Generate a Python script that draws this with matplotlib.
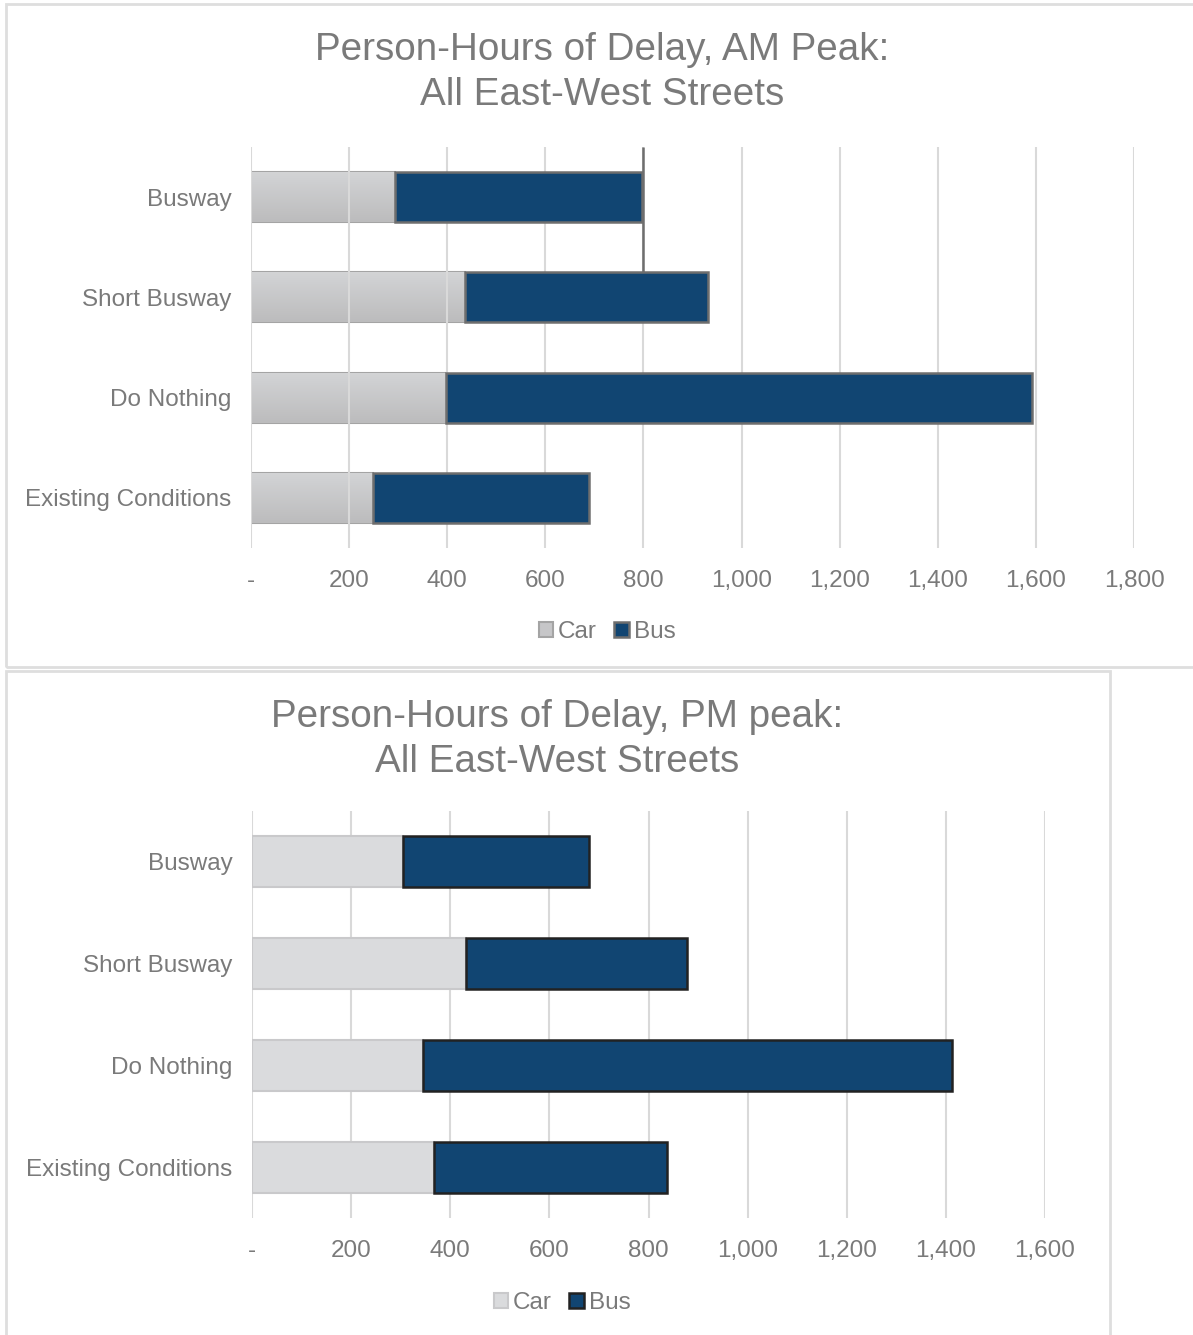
import matplotlib
matplotlib.use("Agg")
import matplotlib.pyplot as plt
import numpy as np
from matplotlib.patches import Rectangle
from matplotlib.colors import LinearSegmentedColormap
from matplotlib.ticker import FuncFormatter, MultipleLocator

plt.rcParams['font.family'] = ['Liberation Sans', 'DejaVu Sans']

categories = ["Existing Conditions", "Do Nothing", "Short Busway", "Busway"]

am_car = [248, 398, 437, 294]
am_total = [689, 1592, 931, 797]
am_bus = [t - c for t, c in zip(am_total, am_car)]

pm_car = [367, 346, 432, 304]
pm_total = [837, 1412, 878, 680]
pm_bus = [t - c for t, c in zip(pm_total, pm_car)]

am_title = "Person-Hours of Delay, AM Peak:\nAll East-West Streets"
pm_title = "Person-Hours of Delay, PM peak:\nAll East-West Streets"
series_names = ["Car", "Bus"]

W, H = 1193, 1335
fig = plt.figure(figsize=(W / 100, H / 100), dpi=100)
fig.patch.set_facecolor("white")

TEXT = "#7a7a7a"
BUS = "#114572"
GRID = "#d9d9d9"
FS = 17.5


def fx(px):
    return px / W


def fy(py):
    return 1 - py / H


# panel borders
fig.patches.append(Rectangle((fx(6), fy(667)), fx(1200) - fx(6), fy(4) - fy(667),
                             transform=fig.transFigure, fill=False,
                             edgecolor="#dedede", linewidth=2))
fig.patches.append(Rectangle((fx(6), fy(1345)), fx(1110) - fx(6), fy(671) - fy(1345),
                             transform=fig.transFigure, fill=False,
                             edgecolor="#dedede", linewidth=2))


def fmt(v, pos):
    if abs(v) < 1e-9:
        return "-"
    return f"{int(round(v)):,}"


def make(ax, car, bus, xmax, car_color, car_edge, bus_edge, car_z, gradient=False):
    y = list(range(len(categories)))
    ax.set_axisbelow(True)
    cars = ax.barh(y, car, height=0.5, color=car_color, edgecolor=car_edge,
                   linewidth=1.5, zorder=car_z, label=series_names[0])
    ax.barh(y, bus, left=car, height=0.5, color=BUS, edgecolor=bus_edge,
            linewidth=1.8, zorder=2, label=series_names[1])
    if gradient:
        cmap = LinearSegmentedColormap.from_list("g", ["#bcbcbd", "#d3d4d6"])
        grad = np.linspace(0, 1, 64).reshape(-1, 1)
        for p in cars.patches:
            x0, y0 = p.get_x(), p.get_y()
            x1, y1 = x0 + p.get_width(), y0 + p.get_height()
            im = ax.imshow(grad, extent=[x0, x1, y0, y1], origin="lower",
                           aspect="auto", cmap=cmap, zorder=car_z + 0.01)
            im.set_clip_path(p)
    ax.set_xlim(0, xmax)
    ax.set_ylim(-0.5, len(categories) - 0.5)
    ax.set_aspect("auto")
    ax.xaxis.set_major_locator(MultipleLocator(200))
    ax.xaxis.set_major_formatter(FuncFormatter(fmt))
    ax.grid(axis="x", color=GRID, linewidth=1.5)
    ax.grid(axis="y", visible=False)
    for s in ax.spines.values():
        s.set_visible(False)
    ax.set_yticks(y)
    ax.set_yticklabels(categories)
    ax.tick_params(axis="both", length=0, labelsize=FS, labelcolor=TEXT)
    ax.tick_params(axis="y", pad=14)
    ax.tick_params(axis="x", pad=15.5)


# Top chart
ax1 = fig.add_axes([fx(251), fy(548), fx(1134) - fx(251), fy(147) - fy(548)])
make(ax1, am_car, am_bus, 1800, "#c6c6c8", "#a4a4a4", "#6e6e6e", 0.3, gradient=True)
ax1.vlines(800, 2.25, 3.5, color="#6e6e6e", linewidth=1.8, zorder=1.5)
fig.text(fx(602), fy(72.5), am_title, ha="center", va="center", fontsize=27.8,
         color=TEXT, linespacing=1.3)
h, l = ax1.get_legend_handles_labels()
fig.legend(h, l, loc="center", bbox_to_anchor=(fx(607), fy(632)), ncol=2,
           frameon=False, fontsize=FS, labelcolor=TEXT, handlelength=0.6,
           handleheight=0.6, handletextpad=0.2, columnspacing=0.7)

# Bottom chart
ax2 = fig.add_axes([fx(252), fy(1218), fx(1045) - fx(252), fy(811) - fy(1218)])
make(ax2, pm_car, pm_bus, 1600, "#dadbdd", "#c9c9cb", "#222222", 1.0)
fig.text(fx(557), fy(739.5), pm_title, ha="center", va="center", fontsize=27.8,
         color=TEXT, linespacing=1.3)
h, l = ax2.get_legend_handles_labels()
fig.legend(h, l, loc="center", bbox_to_anchor=(fx(562), fy(1303)), ncol=2,
           frameon=False, fontsize=FS, labelcolor=TEXT, handlelength=0.6,
           handleheight=0.6, handletextpad=0.2, columnspacing=0.7)

fig.savefig("out.png", dpi=100, facecolor="white")
